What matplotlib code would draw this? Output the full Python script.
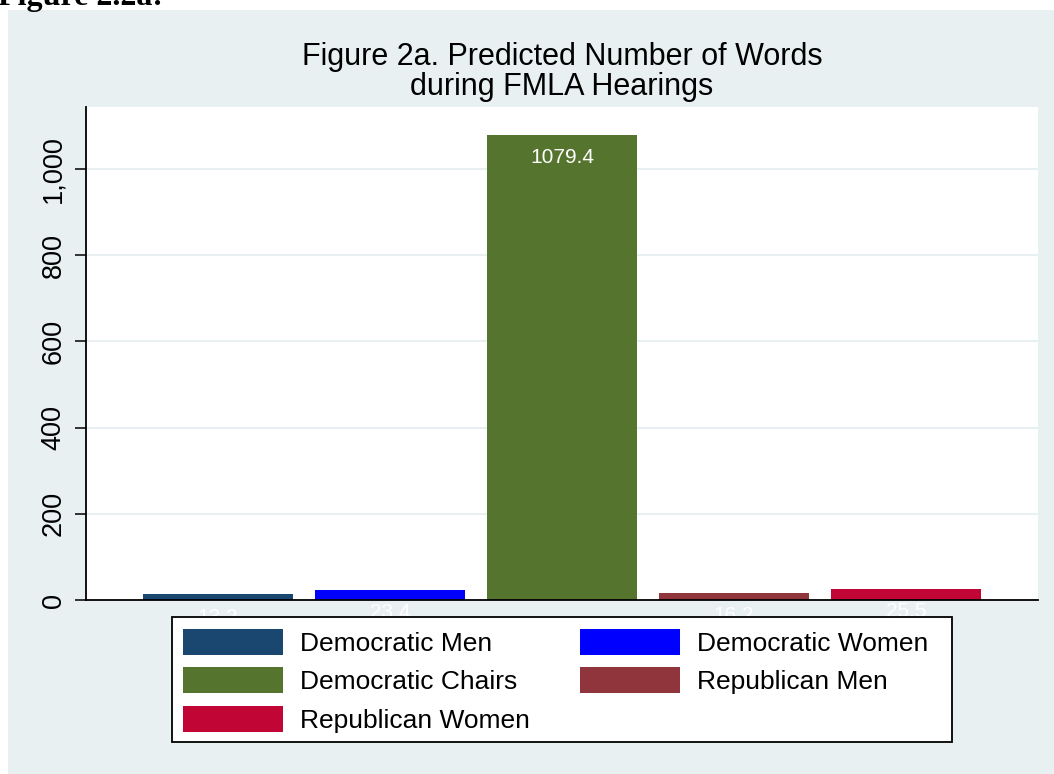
import matplotlib
matplotlib.use("Agg")
import matplotlib.pyplot as plt
from matplotlib.patches import Rectangle, Patch

categories = ["Democratic Men", "Democratic Women", "Democratic Chairs",
              "Republican Men", "Republican Women"]
values = [13.2, 23.4, 1079.4, 16.2, 25.5]
colors = ["#1a476f", "#0000ff", "#55752f", "#90353b", "#c10534"]
yticks = [0, 200, 400, 600, 800, 1000]
ytick_labels = ["0", "200", "400", "600", "800", "1,000"]
title = "Figure 2a. Predicted Number of Words\nduring FMLA Hearings"

W, H = 1054, 774
plt.rcParams['font.family'] = ['Liberation Sans', 'DejaVu Sans']
fig = plt.figure(figsize=(W / 100, H / 100), dpi=100)
fig.patch.set_facecolor("white")

panel = "#e8f0f2"
fig.patches.append(Rectangle((8 / W, 0), 1, 1 - 10 / H, transform=fig.transFigure,
                             facecolor=panel, edgecolor="none", zorder=-5))

fig.text(-2 / W, 1 - 5 / H, "Figure 2.2a:", family="Liberation Serif",
         fontweight="bold", fontsize=23, va="baseline", ha="left")

ax = fig.add_axes([86 / W, 1 - 600 / H, (1038 - 86) / W, (600 - 107) / H])
ax.set_zorder(1)
ax.set_facecolor("white")
x = list(range(len(values)))
bars = ax.bar(x, values, width=0.872, color=colors, edgecolor="none", zorder=2)
ax.set_xlim(-0.767, len(values) - 1 + 0.767)
ax.set_ylim(0, 1144)
ax.set_yticks(yticks)
ax.set_yticklabels(ytick_labels, rotation=90, va="center", fontsize=19.5)
ax.set_xticks([])
for yv in yticks[1:]:
    ax.axhline(yv, color=panel, lw=1.5, zorder=1)
for s in ["top", "right"]:
    ax.spines[s].set_visible(False)
for s in ["left", "bottom"]:
    ax.spines[s].set_linewidth(1.3)
    ax.spines[s].set_color("black")
ax.tick_params(axis="y", length=8, width=1.1, pad=6)

for xi, v in zip(x, values):
    ax.annotate(f"{v}", xy=(xi, v), xytext=(0, -16.5), textcoords="offset points",
                ha="center", va="center", color="white", fontsize=15,
                annotation_clip=False, zorder=3)

fig.text(562 / W, 1 - 42 / H, title, fontsize=22, linespacing=1.0,
         va="top", ha="center", zorder=3)

# legend box
fig.patches.append(Rectangle((172 / W, 1 - 742 / H), (952 - 172) / W, (742 - 617) / H,
                             transform=fig.transFigure, facecolor="white",
                             edgecolor="black", lw=1.3, zorder=4))

handles = [Patch(facecolor=c, edgecolor="none") for c in colors]
order = [0, 2, 4, 1, 3]
leg = fig.legend([handles[i] for i in order], [categories[i] for i in order],
                 ncol=2, loc="upper left",
                 bbox_to_anchor=(172 / W, 1 - 618 / H), fontsize=19,
                 frameon=False,
                 handlelength=3.79, handleheight=1.12, handletextpad=0.64,
                 columnspacing=1.9, labelspacing=0.44, borderpad=0.42,
                 borderaxespad=0)
leg.set_zorder(6)

fig.savefig("out.png", dpi=100)
